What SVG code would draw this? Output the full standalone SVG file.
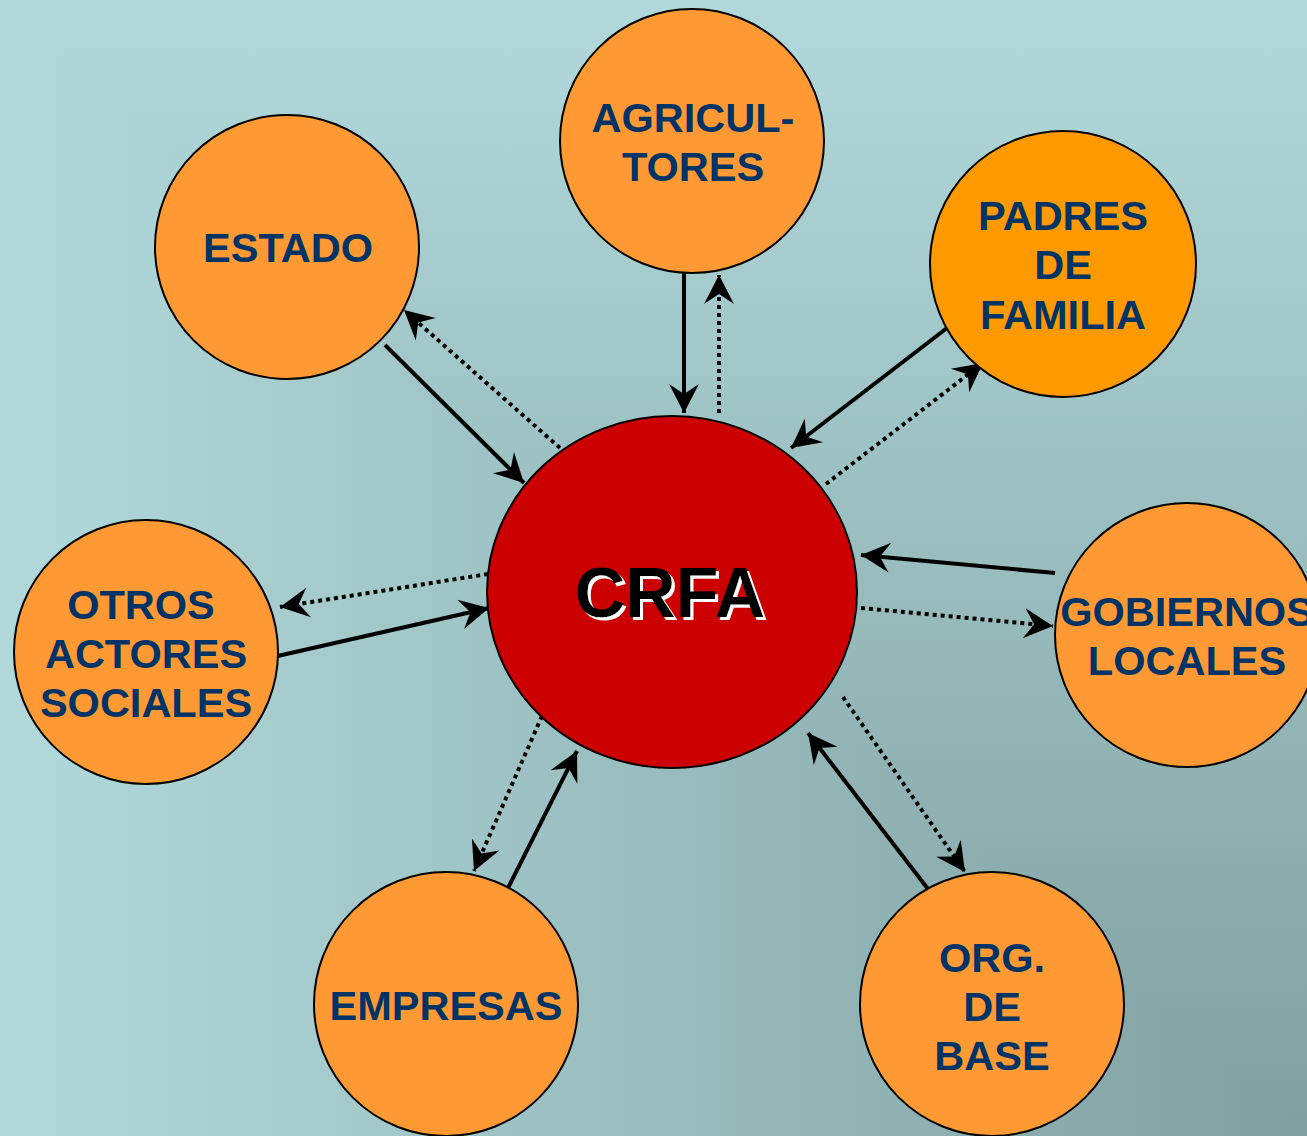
<svg xmlns="http://www.w3.org/2000/svg" width="1307" height="1136" viewBox="0 0 1307 1136">
  <defs>
    <linearGradient id="bgH" gradientUnits="userSpaceOnUse" x1="0" y1="0" x2="1307" y2="0">
      <stop offset="0" stop-color="#b1d9db"/>
      <stop offset="1" stop-color="#81a0a1"/>
    </linearGradient>
    <linearGradient id="bgV" gradientUnits="userSpaceOnUse" x1="0" y1="0" x2="0" y2="1136">
      <stop offset="0" stop-color="#b1d9db"/>
      <stop offset="1" stop-color="#81a0a1"/>
    </linearGradient>
    <marker id="arr" markerUnits="userSpaceOnUse" markerWidth="34" markerHeight="34" viewBox="0 0 34 34" refX="31" refY="17" orient="auto">
      <path d="M31,17 L2,2 L12,17 L2,32 Z" fill="#000"/>
    </marker>
    <filter id="shadow" x="-10%" y="-10%" width="120%" height="130%">
      <feFlood flood-color="#ffffff" result="w"/>
      <feComposite in="w" in2="SourceAlpha" operator="in" result="ws"/>
      <feOffset in="ws" dx="3" dy="3" result="off"/>
      <feMerge>
        <feMergeNode in="off"/>
        <feMergeNode in="SourceGraphic"/>
      </feMerge>
    </filter>
    <style>
      .node { stroke: #000; stroke-width: 2; }
      .orange { fill: #ff9933; }
      .orange2 { fill: #ff9900; }
      .lbl { font-family: "Liberation Sans", Arial, sans-serif; font-weight: bold; font-size: 41.5px; fill: #003366; text-anchor: middle; }
      .crfa { font-family: "Liberation Sans", Arial, sans-serif; font-weight: bold; font-size: 70px; text-anchor: middle; fill: #000; }
      .solid { stroke: #000; stroke-width: 4; fill: none; marker-end: url(#arr); }
      .dot { stroke: #000; stroke-width: 4; fill: none; stroke-dasharray: 4 4; marker-end: url(#arr); }
    </style>
  </defs>

  <g id="background">
    <rect x="0" y="0" width="1307" height="1136" fill="url(#bgH)"/>
    <polygon points="0,0 1307,0 1307,1136" fill="url(#bgV)"/>
  </g>

  <g id="connectors">
    <line class="solid" x1="385" y1="345" x2="524" y2="483"/>
    <line class="dot" x1="560" y1="448" x2="404" y2="310"/>
    <line class="solid" x1="684" y1="273" x2="684" y2="413"/>
    <line class="dot" x1="719" y1="413" x2="719" y2="275"/>
    <line class="solid" x1="947" y1="328" x2="791" y2="448"/>
    <line class="dot" x1="826" y1="484" x2="983" y2="363"/>
    <line class="solid" x1="1055" y1="573" x2="861" y2="555"/>
    <line class="dot" x1="861" y1="608" x2="1053" y2="626"/>
    <line class="solid" x1="260" y1="660" x2="489" y2="608"/>
    <line class="dot" x1="488" y1="574" x2="280" y2="607"/>
    <line class="dot" x1="542" y1="716" x2="474" y2="871"/>
    <line class="solid" x1="508" y1="888" x2="577" y2="751"/>
    <line class="solid" x1="928" y1="889" x2="808" y2="733"/>
    <line class="dot" x1="843" y1="697" x2="965" y2="872"/>
  </g>

  <g id="node-estado">
    <circle class="node orange" cx="287" cy="247" r="132"/>
    <text class="lbl" x="288" y="262">ESTADO</text>
  </g>
  <g id="node-agricultores">
    <circle class="node orange" cx="692" cy="141" r="132"/>
    <text class="lbl" x="693" y="132">AGRICUL-</text>
    <text class="lbl" x="693" y="181">TORES</text>
  </g>
  <g id="node-padres">
    <circle class="node orange2" cx="1063" cy="264" r="133"/>
    <text class="lbl" x="1063" y="230">PADRES</text>
    <text class="lbl" x="1063" y="279">DE</text>
    <text class="lbl" x="1063" y="329">FAMILIA</text>
  </g>
  <g id="node-otros">
    <circle class="node orange" cx="146" cy="652" r="132"/>
    <text class="lbl" x="141" y="619">OTROS</text>
    <text class="lbl" x="146" y="668">ACTORES</text>
    <text class="lbl" x="146" y="717">SOCIALES</text>
  </g>
  <g id="node-gobiernos">
    <circle class="node orange" cx="1187" cy="635" r="132"/>
    <text class="lbl" x="1187" y="626">GOBIERNOS</text>
    <text class="lbl" x="1187" y="675">LOCALES</text>
  </g>
  <g id="node-empresas">
    <circle class="node orange" cx="446" cy="1004" r="132"/>
    <text class="lbl" x="446" y="1020">EMPRESAS</text>
  </g>
  <g id="node-org">
    <circle class="node orange" cx="992" cy="1004" r="132"/>
    <text class="lbl" x="992" y="972">ORG.</text>
    <text class="lbl" x="992" y="1021">DE</text>
    <text class="lbl" x="992" y="1070">BASE</text>
  </g>
  <g id="node-crfa">
    <ellipse class="node" cx="672" cy="592" rx="185" ry="176" fill="#cc0000"/>
    <text class="crfa" x="670" y="617" filter="url(#shadow)">CRFA</text>
  </g>
</svg>
